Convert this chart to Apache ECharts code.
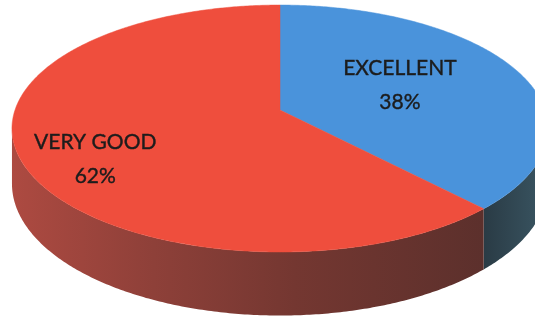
<!DOCTYPE html>
<html>
<head>
<meta charset="utf-8">
<script src="https://cdn.jsdelivr.net/npm/echarts@6/dist/echarts.min.js"></script>
<style>html,body{margin:0;padding:0;background:#fff;}#c{width:535px;height:318px;}</style>
</head>
<body>
<div id="c"></div>
<script>
// ---- data ----
const categories = ['EXCELLENT', 'VERY GOOD'];
const values = [38, 62];

// ---- styles ----
const topColors = ['#4a93db', '#ef4e3d'];
const sideStops = [
  [[0, '#2a3b45'], [1, '#3a5663']],
  [[0, '#ad4a41'], [0.3, '#8e4039'], [0.6, '#743731'], [1, '#5c302c']]
];
const labelRadius = [0.5, 0.72];
const labelShiftY = [-3, 16];

// ---- projection (perspective view of a tilted disc) ----
const P = { cx: 280, cy: 110, A: 265, B: 120.7, k: 0.15, H: 54 };
function proj(theta, r, h) {
  const X = r * Math.sin(theta), Z = r * Math.cos(theta);
  const w = 1 + P.k * Z;
  return [P.cx + P.A * X / w, P.cy - P.B * Z / w + h * P.H / w];
}
const total = values.reduce((s, v) => s + v, 0);
const silhouette = Math.acos(-P.k);
const visLo = silhouette, visHi = 2 * Math.PI - silhouette;

function arc(a0, a1, h) {
  const pts = [];
  const n = Math.max(2, Math.ceil((a1 - a0) / 0.01));
  for (let i = 0; i <= n; i++) pts.push(proj(a0 + (a1 - a0) * i / n, 1, h));
  return pts;
}

const chart = echarts.init(document.getElementById('c'), null, { renderer: 'canvas' });
chart.setOption({
  backgroundColor: '#ffffff',
  animation: false,
  series: [{
    type: 'custom',
    coordinateSystem: 'none',
    data: values.map((v, i) => [i, v]),
    renderItem: function (params, api) {
      const i = params.dataIndex;
      const v = api.value(1);
      let before = 0;
      for (let j = 0; j < i; j++) before += values[j];
      const a0 = before / total * 2 * Math.PI;
      const a1 = (before + v) / total * 2 * Math.PI;
      const children = [];
      const s0 = Math.max(a0, visLo), s1 = Math.min(a1, visHi);
      if (s1 > s0) {
        const topArc = arc(s0, s1, 0);
        const botArc = arc(s0, s1, 1).reverse();
        children.push({
          type: 'polygon', z2: 1,
          shape: { points: topArc.concat(botArc) },
          style: {
            fill: new echarts.graphic.LinearGradient(
              Math.min(...topArc.map(p => p[0])), 0,
              Math.max(...topArc.map(p => p[0])), 0,
              sideStops[i].map(s => ({ offset: s[0], color: s[1] })), true),
            stroke: null
          }
        });
      }
      const center = proj(0, 0, 0);
      children.push({
        type: 'polygon', z2: 10,
        shape: { points: [center].concat(arc(a0, a1, 0)) },
        style: { fill: topColors[i], stroke: topColors[i], lineWidth: 0.5 }
      });
      const mid = (a0 + a1) / 2;
      const lp = proj(mid, labelRadius[i], 0);
      children.push({
        type: 'text', z2: 20,
        style: {
          text: categories[i] + '\n' + Math.round(v / total * 100) + '%',
          x: lp[0], y: lp[1] + labelShiftY[i],
          textAlign: 'center', textVerticalAlign: 'middle',
          font: '21px Lato', lineHeight: 34, fill: '#1c1c1c',
          stroke: '#1c1c1c', lineWidth: 0.4
        }
      });
      return { type: 'group', children: children };
    }
  }]
});
</script>
</body>
</html>
